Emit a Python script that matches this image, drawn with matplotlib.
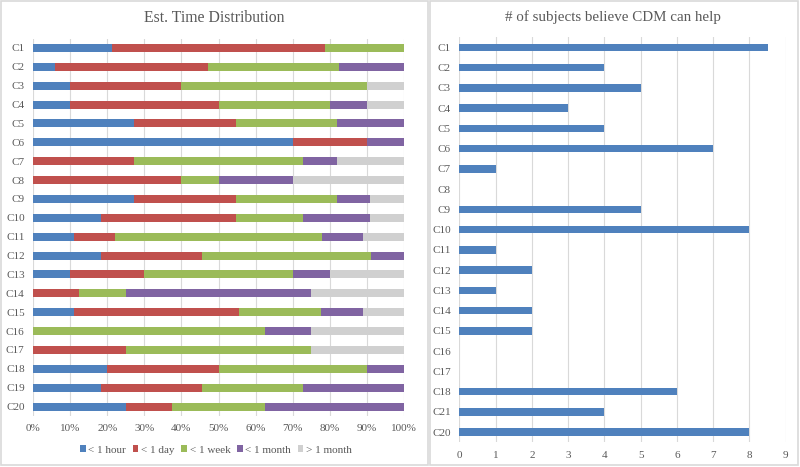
import matplotlib
matplotlib.use("Agg")
import matplotlib.pyplot as plt
import numpy as np
from matplotlib.patches import Rectangle

plt.rcParams['font.family'] = ['Liberation Serif', 'DejaVu Serif']

# ---- Data ----
cats_left = [f"C{i}" for i in range(1, 21)]
series_names = ["< 1 hour", "< 1 day", "< 1 week", "< 1 month", "> 1 month"]
hour  = [21.4, 5.9, 10, 10, 27.3, 70, 0, 0, 27.3, 18.2, 11.1, 18.2, 10, 0, 11.1, 0, 0, 20, 18.2, 25]
day   = [57.2, 41.2, 30, 40, 27.3, 20, 27.3, 40, 27.3, 36.4, 11.1, 27.3, 20, 12.5, 44.4, 0, 25, 30, 27.3, 12.5]
week  = [21.4, 35.3, 50, 30, 27.3, 0, 45.5, 10, 27.3, 18.2, 55.6, 45.5, 40, 12.5, 22.2, 62.5, 50, 40, 27.3, 25]
month = [0, 17.6, 0, 10, 18.1, 10, 9.1, 20, 9.0, 18.1, 11.1, 9.0, 10, 50, 11.2, 12.5, 0, 10, 27.2, 37.5]
more  = [0, 0, 10, 10, 0, 0, 18.1, 30, 9.1, 9.1, 11.1, 0, 20, 25, 11.1, 25, 25, 0, 0, 0]
colors = ["#4F81BD", "#C0504D", "#9BBB59", "#8064A2", "#D0D0D0"]

cats_right = ["C1", "C2", "C3", "C4", "C5", "C6", "C7", "C8", "C9", "C10",
              "C11", "C12", "C13", "C14", "C15", "C16", "C17", "C18", "C21", "C20"]
counts = [8.5, 4, 5, 3, 4, 7, 1, 0, 5, 8, 1, 2, 1, 2, 2, 0, 0, 6, 4, 8]

W, H = 800, 467
fig = plt.figure(figsize=(8, 4.67), dpi=100)
text_col = "#595959"
grid_col = "#D9D9D9"

def fx(px): return px / W
def fy(py): return 1 - py / H

# panel frames
fig.patches.append(Rectangle((fx(1), fy(465)), fx(427), (464) / H, transform=fig.transFigure,
                             fill=False, edgecolor="#D9D9D9", lw=1.2))
fig.patches.append(Rectangle((fx(430), fy(465)), fx(368), (464) / H, transform=fig.transFigure,
                             fill=False, edgecolor="#D9D9D9", lw=1.2))

# ---- Left chart ----
axL = fig.add_axes([fx(33), fy(416), fx(404 - 33), (416 - 38.5) / H])
y = np.arange(len(cats_left))
left = np.zeros(len(cats_left))
for name, vals, c in zip(series_names, [hour, day, week, month, more], colors):
    v = np.array(vals, dtype=float)
    axL.barh(y, v, left=left, height=0.43, color=c, label=name, zorder=3)
    left += v
axL.set_ylim(len(cats_left) - 0.5, -0.5)
axL.set_xlim(0, 100)
axL.set_yticks(y)
axL.set_yticklabels(cats_left)
axL.set_xticks(np.arange(0, 101, 10))
axL.set_xticklabels([f"{v}%" for v in range(0, 101, 10)])
axL.grid(axis='x', color=grid_col, lw=0.8, zorder=0)
for s in axL.spines.values():
    s.set_visible(False)
axL.tick_params(length=0, colors=text_col, labelsize=8, pad=6)
fig.text(fx(214), fy(18), "Est. Time Distribution", color=text_col, fontsize=11.3,
         ha='center', va='center')
leg = axL.legend(loc='center', ncol=5, frameon=False,
                 fontsize=8, handlelength=0.5, handleheight=0.5, handletextpad=0.25,
                 columnspacing=0.6, labelcolor=text_col)
leg.set_bbox_to_anchor((fx(216), fy(450)), transform=fig.transFigure)

# ---- Right chart ----
axR = fig.add_axes([fx(459.3), fy(442.3), fx(785.7 - 459.3), (442.3 - 37.3) / H])
yr = np.arange(len(cats_right))
axR.barh(yr, counts, height=0.375, color="#4F81BD", zorder=3)
axR.set_ylim(len(cats_right) - 0.5, -0.5)
axR.set_xlim(0, 9)
axR.set_yticks(yr)
axR.set_yticklabels(cats_right)
axR.set_xticks(range(0, 10))
axR.grid(axis='x', color=grid_col, lw=0.8, zorder=0)
for s in axR.spines.values():
    s.set_visible(False)
axR.tick_params(length=0, colors=text_col, labelsize=8, pad=6)
fig.text(fx(613), fy(17), "# of subjects believe CDM can help", color=text_col, fontsize=10.8,
         ha='center', va='center')

fig.savefig("out.png", dpi=100)
